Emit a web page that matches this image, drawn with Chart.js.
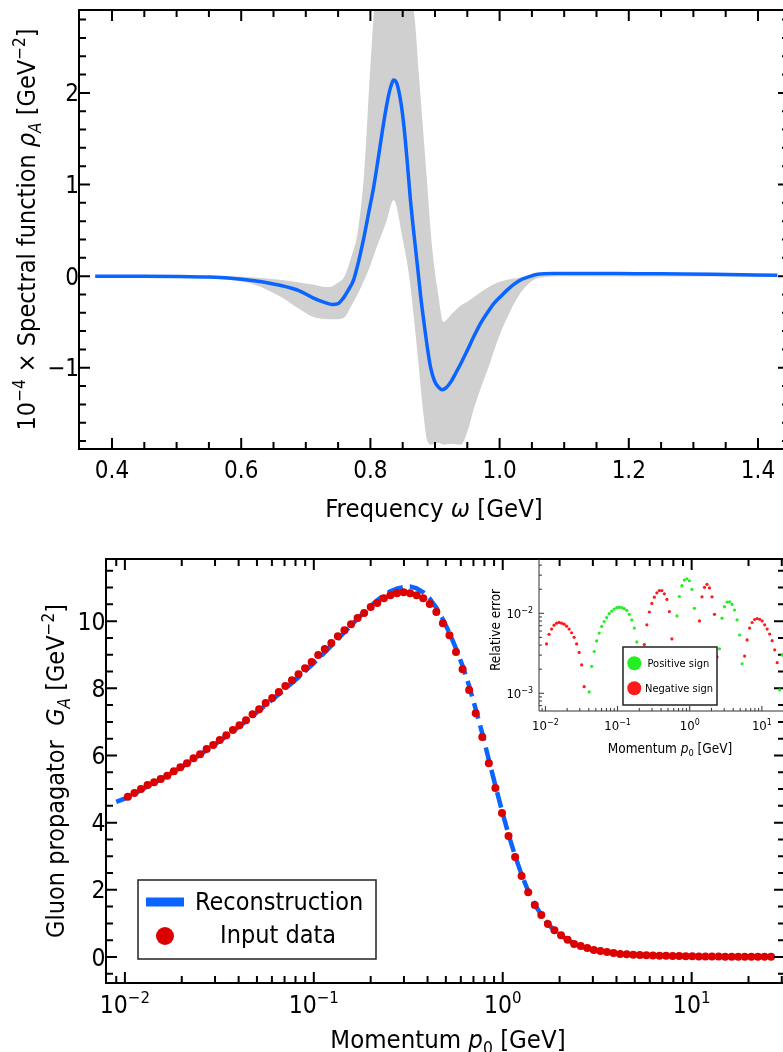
<!DOCTYPE html>
<html>
<head>
<meta charset="utf-8">
<title>Spectral function and gluon propagator</title>
<script src="https://cdn.jsdelivr.net/npm/chart.js@4.4.1/dist/chart.umd.min.js"></script>
<style>
  html, body { margin: 0; padding: 0; background: #fff; overflow: hidden; }
  #page { position: relative; width: 783px; height: 1052px; overflow: hidden; }
  #page canvas { position: absolute; }
</style>
</head>
<body>
<div id="page">
  <canvas id="spectralChart" width="789" height="530" style="left:0;top:0"></canvas>
  <canvas id="propagatorChart" width="789" height="522" style="left:0;top:530px"></canvas>
  <canvas id="errorChart" width="330" height="215" style="left:470px;top:550px"></canvas>
</div>
<script>
// 스펙트럼 함수 (위쪽 그림)
const omega = [0.374, 0.45, 0.5, 0.55, 0.58, 0.62, 0.66, 0.69, 0.712, 0.73, 0.741, 0.75, 0.758, 0.766, 0.774,
    0.781, 0.789, 0.797, 0.805, 0.812, 0.818, 0.824, 0.829, 0.833, 0.836, 0.84, 0.844, 0.848, 0.852, 0.857,
    0.862, 0.868, 0.873, 0.878, 0.883, 0.888, 0.893, 0.899, 0.905, 0.911, 0.917, 0.924, 0.932, 0.941, 0.95,
    0.96, 0.971, 0.981, 0.991, 1.002, 1.012, 1.022, 1.033, 1.046, 1.059, 1.084, 1.12, 1.18, 1.25, 1.33, 1.43];
const rhoMean = [0, 0, -0.003, -0.01, -0.02, -0.05, -0.1, -0.16, -0.24, -0.29, -0.31, -0.3, -0.24, -0.15, -0.04,
    0.14, 0.39, 0.68, 0.97, 1.28, 1.56, 1.82, 2.0, 2.1, 2.14, 2.12, 2.02, 1.86, 1.63, 1.25,
    0.83, 0.42, 0.1, -0.23, -0.51, -0.77, -0.99, -1.14, -1.21, -1.24, -1.22, -1.16, -1.06, -0.94, -0.81,
    -0.66, -0.51, -0.4, -0.3, -0.22, -0.15, -0.09, -0.04, -0.005, 0.02, 0.03, 0.03, 0.03, 0.025, 0.02, 0.01];

// 오차 띠
const bandOmega = [0.374, 0.5, 0.58, 0.62, 0.66, 0.69, 0.71, 0.735, 0.75, 0.76, 0.77, 0.78, 0.79, 0.8, 0.81,
    0.825, 0.836, 0.85, 0.86, 0.868, 0.875, 0.882, 0.888, 0.895, 0.905, 0.913, 0.925, 0.94, 0.95, 0.96,
    0.97, 0.985, 0.997, 1.012, 1.028, 1.045, 1.06, 1.1, 1.43];
const bandUpper = [0.005, 0, -0.005, -0.015, -0.04, -0.07, -0.09, -0.12, -0.07, 0.0, 0.2, 0.47, 1.1, 2.3, 3.3,
    3.8, 3.9, 3.6, 3.1, 2.85, 2.2, 1.56, 1.0, 0.35, -0.2, -0.5, -0.42, -0.32, -0.28, -0.23,
    -0.18, -0.11, -0.07, -0.04, -0.02, -0.005, 0, 0.01, 0.005];
const bandLower = [-0.005, -0.012, -0.04, -0.09, -0.22, -0.36, -0.44, -0.47, -0.47, -0.45, -0.33, -0.2, -0.05, 0.12, 0.32,
    0.6, 0.83, 0.4, 0, -0.5, -1.0, -1.5, -1.8, -1.84, -1.82, -1.84, -1.83, -1.84, -1.7, -1.45,
    -1.24, -0.95, -0.7, -0.45, -0.23, -0.08, -0.02, 0, -0.005];

// 글루온 전파함수 (아래쪽 그림)
const momentum = [0.01037, 0.01123, 0.01217, 0.01318, 0.01428, 0.01547, 0.01676, 0.01816, 0.01967, 0.02131,
    0.02308, 0.025, 0.02708, 0.02934, 0.03178, 0.03442, 0.03729, 0.0404, 0.04376, 0.0474,
    0.05135, 0.05562, 0.06025, 0.06527, 0.0707, 0.07658, 0.08299, 0.0899, 0.09739, 0.1055,
    0.1143, 0.1238, 0.1341, 0.1453, 0.1574, 0.1705, 0.1847, 0.2001, 0.2167, 0.2348,
    0.2543, 0.2755, 0.2985, 0.3233, 0.3502, 0.3794, 0.411, 0.4452, 0.4823, 0.5224,
    0.5659, 0.613, 0.6641, 0.7194, 0.7793, 0.8442, 0.9146, 0.9908, 1.073, 1.163,
    1.259, 1.364, 1.478, 1.601, 1.734, 1.879, 2.035, 2.205, 2.388, 2.587,
    2.803, 3.036, 3.289, 3.563, 3.86, 4.181, 4.529, 4.907, 5.315, 5.758,
    6.237, 6.757, 7.32, 7.929, 8.59, 9.305, 10.08, 10.92, 11.83, 12.81,
    13.88, 15.04, 16.29, 17.65, 19.11, 20.71, 22.43, 24.3, 26.33];
const propagator = [4.77, 4.88, 5.0, 5.12, 5.2, 5.3, 5.4, 5.53, 5.65, 5.77,
    5.92, 6.04, 6.19, 6.31, 6.46, 6.6, 6.76, 6.9, 7.05, 7.23,
    7.38, 7.56, 7.71, 7.89, 8.07, 8.24, 8.42, 8.6, 8.78, 8.99,
    9.17, 9.35, 9.55, 9.73, 9.91, 10.09, 10.24, 10.42, 10.54, 10.68,
    10.77, 10.83, 10.86, 10.83, 10.77, 10.68, 10.51, 10.27, 9.94, 9.58,
    9.08, 8.57, 7.95, 7.26, 6.55, 5.77, 5.03, 4.29, 3.6, 2.98,
    2.41, 1.93, 1.55, 1.25, 0.98, 0.8, 0.65, 0.51, 0.39, 0.33,
    0.27, 0.21, 0.18, 0.15, 0.12, 0.09, 0.08, 0.07, 0.06, 0.05,
    0.045, 0.04, 0.035, 0.03, 0.027, 0.024, 0.021, 0.018, 0.016, 0.014,
    0.012, 0.011, 0.01, 0.009, 0.008, 0.007, 0.006, 0.005, 0.005];
const reconMomentum = [0.009].concat(momentum);
const reconstruction = [4.62, 4.75, 4.86, 4.97, 5.08, 5.18, 5.29, 5.4, 5.52, 5.63, 5.76,
    5.89, 6.02, 6.16, 6.29, 6.43, 6.57, 6.72, 6.87, 7.02, 7.18,
    7.34, 7.5, 7.66, 7.82, 7.99, 8.16, 8.33, 8.51, 8.69, 8.88,
    9.07, 9.27, 9.47, 9.67, 9.87, 10.07, 10.27, 10.45, 10.62, 10.77,
    10.89, 10.97, 11.02, 11.03, 10.98, 10.86, 10.67, 10.4, 10.05, 9.65,
    9.18, 8.67, 8.07, 7.38, 6.66, 5.87, 5.1, 4.35, 3.65, 3.01,
    2.45, 1.96, 1.56, 1.26, 0.98, 0.79, 0.64, 0.51, 0.4, 0.32,
    0.26, 0.21, 0.17, 0.14, 0.12, 0.1, 0.08, 0.07, 0.06, 0.05,
    0.045, 0.04, 0.035, 0.03, 0.027, 0.024, 0.021, 0.018, 0.016, 0.014,
    0.012, 0.011, 0.01, 0.009, 0.008, 0.007, 0.006, 0.005, 0.005];

// 상대 오차 (부호 포함, 같은 운동량 격자)
const relError = [-0.00414, -0.00546, -0.00634, -0.00711, -0.00753, -0.00768, -0.00753, -0.00732, -0.00691, -0.00634,
    -0.00571, -0.00501, -0.00414, -0.00324, -0.00226, -0.00121, 0.0003,
    0.00104, 0.00217, 0.00333, 0.00451, 0.00566, 0.00686, 0.0079, 0.00885, 0.00991, 0.01067,
    0.0113, 0.01175, 0.01186, 0.01175, 0.01143, 0.01089, 0.00972, 0.00826, 0.00653, 0.00439,
    0.0022, -0.0009,
    -0.00406, -0.00718, -0.01038, -0.01328, -0.01589, -0.01803, -0.01923, -0.01923, -0.0175, -0.01489, -0.0105, -0.00478,
    0.0012,
    0.00927, 0.01622, 0.02218, 0.02606, 0.02704, 0.02554, 0.01995, 0.01153,
    -0.0015,
    -0.00803, -0.01607, -0.02113, -0.023, -0.02075, -0.01607, -0.00972, -0.00284,
    0.0036, 0.00868, 0.01211, 0.0138, 0.01394, 0.01291, 0.01099, 0.00826, 0.00535, 0.00234,
    -0.00292, -0.00464, -0.00653, -0.00767, -0.00836, -0.0086, -0.00843, -0.00803, -0.00717, -0.00634,
    -0.00551, -0.00455, -0.00349, -0.00241,
    0.0011, 0.003, 0.005, 0.006, 0.0065, 0.006];

// 눈금
const omegaTicks = [0.4, 0.6, 0.8, 1.0, 1.2, 1.4];
const omegaMinor = [0.45, 0.5, 0.55, 0.65, 0.7, 0.75, 0.85, 0.9, 0.95, 1.05, 1.1, 1.15, 1.25, 1.3, 1.35, 1.45];
const rhoTicks = [-1, 0, 1, 2];
const rhoMinor = [-1.8, -1.6, -1.4, -1.2, -0.8, -0.6, -0.4, -0.2, 0.2, 0.4, 0.6, 0.8,
    1.2, 1.4, 1.6, 1.8, 2.2, 2.4, 2.6, 2.8];
const momentumTicks = [0.01, 0.1, 1, 10];
const momentumMinor = [0.009, 0.02, 0.03, 0.04, 0.05, 0.06, 0.07, 0.08, 0.09, 0.2, 0.3, 0.4, 0.5, 0.6, 0.7, 0.8, 0.9,
    2, 3, 4, 5, 6, 7, 8, 9, 20, 30];
const propTicks = [0, 2, 4, 6, 8, 10];
const propMinor = [-0.5, 0.5, 1, 1.5, 2.5, 3, 3.5, 4.5, 5, 5.5, 6.5, 7, 7.5, 8.5, 9, 9.5, 10.5, 11, 11.5];
const errTicks = [0.001, 0.01];
const errMinor = [0.0007, 0.0008, 0.0009, 0.002, 0.003, 0.004, 0.005, 0.006, 0.007, 0.008, 0.009, 0.02, 0.03, 0.04];

const FONT = '"DejaVu Sans Condensed", "DejaVu Sans", sans-serif';
const BLUE = '#0a64ff';
const BAND = '#d0d0d0';
const DOT_RED = '#dc0000';
const GREEN = '#22ee22';
const RED = '#ff1a1a';

Chart.defaults.font.family = FONT;

// 위첨자/아래첨자가 있는 텍스트 그리기
function drawRich(ctx, parts, x, y, size, align) {
    const fontOf = s => (s.charAt(0) === 'i' ? 'italic ' : '') +
        ((s.indexOf('sup') >= 0 || s.indexOf('sub') >= 0) ? size * 0.68 : size) + 'px ' + FONT;
    let total = 0;
    parts.forEach(([t, s = '']) => { ctx.font = fontOf(s); total += ctx.measureText(t).width; });
    let cx = align === 'center' ? x - total / 2 : (align === 'right' ? x - total : x);
    ctx.textAlign = 'left';
    ctx.textBaseline = 'alphabetic';
    parts.forEach(([t, s = '']) => {
        ctx.font = fontOf(s);
        const dy = s.indexOf('sup') >= 0 ? -size * 0.42 : (s.indexOf('sub') >= 0 ? size * 0.22 : 0);
        ctx.fillText(t, cx, y + dy);
        cx += ctx.measureText(t).width;
    });
}

const minus = v => (v < 0 ? '\u2212' + Math.abs(v) : String(v));
const power = v => [['10'], [minus(Math.round(Math.log10(v))), 'sup']];

// 테두리와 안쪽 눈금
function drawFrame(chart, cfg) {
    const { ctx, chartArea: a } = chart;
    const xs = chart.scales.x;
    const ys = chart.scales.y;
    ctx.save();
    ctx.strokeStyle = cfg.color;
    ctx.lineWidth = cfg.width;
    ctx.beginPath();
    if (cfg.box) {
        ctx.rect(a.left, a.top, a.right - a.left, a.bottom - a.top);
    } else {
        ctx.moveTo(a.left, a.top);
        ctx.lineTo(a.left, a.bottom);
        ctx.lineTo(a.right, a.bottom);
    }
    const xTick = (v, len) => {
        const px = xs.getPixelForValue(v);
        if (px < a.left + 2 || px > a.right - 2) return;
        ctx.moveTo(px, a.bottom); ctx.lineTo(px, a.bottom - len);
        if (cfg.box) { ctx.moveTo(px, a.top); ctx.lineTo(px, a.top + len); }
    };
    const yTick = (v, len) => {
        const py = ys.getPixelForValue(v);
        if (py < a.top + 2 || py > a.bottom - 2) return;
        ctx.moveTo(a.left, py); ctx.lineTo(a.left + len, py);
        if (cfg.box) { ctx.moveTo(a.right, py); ctx.lineTo(a.right - len, py); }
    };
    cfg.xMajor.forEach(v => xTick(v, cfg.major));
    cfg.xMinor.forEach(v => xTick(v, cfg.minor));
    cfg.yMajor.forEach(v => yTick(v, cfg.major));
    cfg.yMinor.forEach(v => yTick(v, cfg.minor));
    ctx.stroke();
    ctx.restore();
}

function hiddenAxis(extra, fit) {
    return Object.assign({
        grid: { display: false, drawTicks: false },
        border: { display: false },
        ticks: { display: false },
        afterFit: fit
    }, extra);
}

const commonOptions = {
    responsive: false,
    animation: false,
    events: [],
    plugins: { legend: { display: false }, tooltip: { enabled: false } }
};

// 위쪽: 스펙트럼 함수
new Chart(document.getElementById('spectralChart'), {
    type: 'scatter',
    data: {
        datasets: [{
            label: 'Spectral function',
            data: omega.map((w, i) => ({ x: w, y: rhoMean[i] })),
            showLine: true,
            borderColor: BLUE,
            borderWidth: 3.5,
            pointRadius: 0,
            cubicInterpolationMode: 'monotone',
            order: 0
        }, {
            label: 'upper',
            data: bandOmega.map((w, i) => ({ x: w, y: bandUpper[i] })),
            showLine: true,
            borderColor: 'rgba(0,0,0,0)',
            backgroundColor: BAND,
            pointRadius: 0,
            cubicInterpolationMode: 'monotone',
            fill: '+1',
            order: 1
        }, {
            label: 'lower',
            data: bandOmega.map((w, i) => ({ x: w, y: bandLower[i] })),
            showLine: true,
            borderColor: 'rgba(0,0,0,0)',
            pointRadius: 0,
            cubicInterpolationMode: 'monotone',
            fill: false,
            order: 2
        }]
    },
    options: Object.assign({}, commonOptions, {
        layout: { padding: { top: 10, left: 0, right: 0, bottom: 0 } },
        scales: {
            x: hiddenAxis({ type: 'linear', min: 0.3489, max: 1.448 }, s => { s.height = 81; }),
            y: hiddenAxis({ type: 'linear', min: -1.887, max: 2.905 }, s => { s.width = 79; })
        }
    }),
    plugins: [{
        id: 'spectralDecor',
        afterDatasetsDraw(chart) {
            drawFrame(chart, {
                box: true, color: '#000', width: 2, major: 11, minor: 7,
                xMajor: omegaTicks, xMinor: omegaMinor, yMajor: rhoTicks, yMinor: rhoMinor
            });
            const { ctx, chartArea: a } = chart;
            const xs = chart.scales.x;
            const ys = chart.scales.y;
            ctx.save();
            ctx.fillStyle = '#000';
            omegaTicks.forEach(v => drawRich(ctx, [[v.toFixed(1)]], xs.getPixelForValue(v), 478, 24, 'center'));
            rhoTicks.forEach(v => drawRich(ctx, [[minus(v)]], 79, ys.getPixelForValue(v) + 8.5, 24, 'right'));
            drawRich(ctx, [['Frequency '], ['\u03c9', 'i'], [' [GeV]']], 434, 517, 25.5, 'center');
            ctx.translate(35, (a.top + a.bottom) / 2);
            ctx.rotate(-Math.PI / 2);
            drawRich(ctx, [['10'], ['\u22124', 'sup'], [' \u00d7 Spectral function '], ['\u03c1', 'i'], ['A', 'isub'],
                [' [GeV'], ['\u22122', 'sup'], [']']], 0, 0, 25, 'center');
            ctx.restore();
        }
    }]
});

// 아래쪽: 글루온 전파함수
new Chart(document.getElementById('propagatorChart'), {
    type: 'scatter',
    data: {
        datasets: [{
            label: 'Input data',
            data: momentum.map((p, i) => ({ x: p, y: propagator[i] })),
            pointRadius: 4,
            pointBackgroundColor: DOT_RED,
            pointBorderWidth: 0,
            order: 0
        }, {
            label: 'Reconstruction',
            data: reconMomentum.map((p, i) => ({ x: p, y: reconstruction[i] })),
            showLine: true,
            borderColor: BLUE,
            borderWidth: 4.5,
            borderDash: [16, 7],
            pointRadius: 0,
            order: 1
        }]
    },
    options: Object.assign({}, commonOptions, {
        layout: { padding: { top: 29, left: 0, right: 0, bottom: 0 } },
        scales: {
            x: hiddenAxis({ type: 'logarithmic', min: 0.007943, max: 31.2 }, s => { s.height = 69; }),
            y: hiddenAxis({ type: 'linear', min: -0.774, max: 11.85 }, s => { s.width = 106; })
        }
    }),
    plugins: [{
        id: 'propagatorDecor',
        afterDatasetsDraw(chart) {
            drawFrame(chart, {
                box: true, color: '#000', width: 2, major: 11, minor: 7,
                xMajor: momentumTicks, xMinor: momentumMinor, yMajor: propTicks, yMinor: propMinor
            });
            const { ctx, chartArea: a } = chart;
            const xs = chart.scales.x;
            const ys = chart.scales.y;
            ctx.save();
            ctx.fillStyle = '#000';
            momentumTicks.forEach(v => drawRich(ctx, power(v), xs.getPixelForValue(v), 483, 24.5, 'center'));
            propTicks.forEach(v => drawRich(ctx, [[minus(v)]], 105.5, ys.getPixelForValue(v) + 8.5, 24.5, 'right'));
            drawRich(ctx, [['Momentum '], ['p', 'i'], ['0', 'sub'], [' [GeV]']], 448, 518, 25.5, 'center');

            // 범례
            const ds = chart.data.datasets;
            ctx.fillStyle = '#fff';
            ctx.fillRect(138, 350, 238, 79);
            ctx.strokeStyle = '#222';
            ctx.lineWidth = 1.5;
            ctx.strokeRect(138, 350, 238, 79);
            ctx.fillStyle = BLUE;
            ctx.fillRect(146, 367.5, 38, 9);
            ctx.fillStyle = '#000';
            drawRich(ctx, [[ds[1].label]], 195, 380, 25, 'left');
            ctx.fillStyle = DOT_RED;
            ctx.beginPath();
            ctx.arc(165, 406, 9, 0, Math.PI * 2);
            ctx.fill();
            ctx.fillStyle = '#000';
            drawRich(ctx, [[ds[0].label]], 220, 413, 25, 'left');

            ctx.translate(64, (a.top + a.bottom) / 2);
            ctx.rotate(-Math.PI / 2);
            drawRich(ctx, [['Gluon propagator  '], ['G', 'i'], ['A', 'isub'], [' [GeV'], ['\u22122', 'sup'], [']']],
                0, 0, 25, 'center');
            ctx.restore();
        }
    }]
});

// 삽입 그림: 상대 오차
new Chart(document.getElementById('errorChart'), {
    type: 'scatter',
    data: {
        datasets: [{
            label: 'Positive sign',
            data: momentum.map((p, i) => ({ x: p, y: relError[i] })).filter(d => d.y > 0),
            pointRadius: 1.6,
            pointBackgroundColor: GREEN,
            pointBorderWidth: 0
        }, {
            label: 'Negative sign',
            data: momentum.map((p, i) => ({ x: p, y: -relError[i] })).filter(d => d.y > 0),
            pointRadius: 1.6,
            pointBackgroundColor: RED,
            pointBorderWidth: 0
        }]
    },
    options: Object.assign({}, commonOptions, {
        layout: { padding: { top: 9, left: 0, right: 0, bottom: 0 } },
        scales: {
            x: hiddenAxis({ type: 'logarithmic', min: 0.00815, max: 29.7 }, s => { s.height = 54; }),
            y: hiddenAxis({ type: 'logarithmic', min: 0.0006345, max: 0.04775 }, s => { s.width = 69; })
        }
    }),
    plugins: [{
        id: 'errorDecor',
        afterDatasetsDraw(chart) {
            drawFrame(chart, {
                box: false, color: '#333', width: 1, major: 5, minor: 3,
                xMajor: momentumTicks, xMinor: momentumMinor, yMajor: errTicks, yMinor: errMinor
            });
            const { ctx } = chart;
            const xs = chart.scales.x;
            const ys = chart.scales.y;
            ctx.save();
            ctx.fillStyle = '#000';
            momentumTicks.forEach(v => drawRich(ctx, power(v), xs.getPixelForValue(v), 180, 13, 'center'));
            errTicks.forEach(v => drawRich(ctx, power(v), 63, ys.getPixelForValue(v) + 5, 13, 'right'));
            drawRich(ctx, [['Momentum '], ['p', 'i'], ['0', 'sub'], [' [GeV]']], 200, 203, 13.5, 'center');

            // 범례
            const ds = chart.data.datasets;
            ctx.fillStyle = '#fff';
            ctx.fillRect(153, 97, 94, 58);
            ctx.strokeStyle = '#222';
            ctx.lineWidth = 1.5;
            ctx.strokeRect(153, 97, 94, 58);
            ctx.fillStyle = GREEN;
            ctx.beginPath();
            ctx.arc(164.3, 113.3, 7, 0, Math.PI * 2);
            ctx.fill();
            ctx.fillStyle = RED;
            ctx.beginPath();
            ctx.arc(164.3, 138.3, 7, 0, Math.PI * 2);
            ctx.fill();
            ctx.fillStyle = '#000';
            drawRich(ctx, [[ds[0].label]], 177.5, 117, 11, 'left');
            drawRich(ctx, [[ds[1].label]], 175, 142, 11, 'left');

            ctx.translate(30, 80);
            ctx.rotate(-Math.PI / 2);
            drawRich(ctx, [['Relative error']], 0, 0, 13.5, 'center');
            ctx.restore();
        }
    }]
});
</script>
</body>
</html>
